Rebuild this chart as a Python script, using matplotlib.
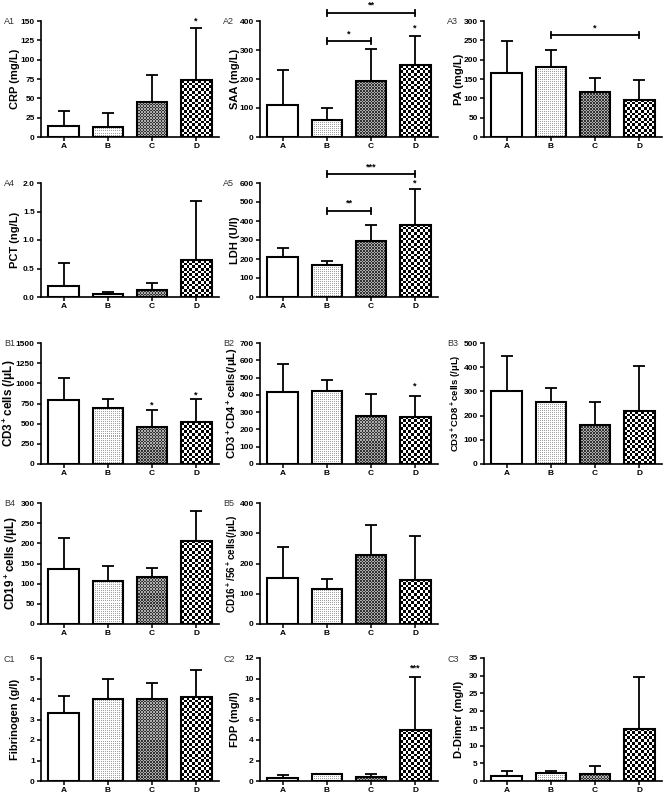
import numpy as np
import matplotlib
matplotlib.use('Agg')
import matplotlib.pyplot as plt

plt.rcParams['font.family'] = ['Liberation Sans', 'DejaVu Sans']
plt.rcParams['mathtext.fontset'] = 'custom'
plt.rcParams['mathtext.bf'] = 'Liberation Sans:bold'
plt.rcParams['mathtext.rm'] = 'Liberation Sans:bold'
plt.rcParams['mathtext.default'] = 'bf'

# groups
groups = ['A', 'B', 'C', 'D']

# values (mean, SD)
crp_mean = [14.5, 13, 45, 73.5]
crp_sd = [19.5, 18, 35, 67.5]
saa_mean = [111, 58, 194, 248]
saa_sd = [120, 41, 110, 101]
pa_mean = [166, 181, 116, 96]
pa_sd = [82, 43, 37, 51]
pct_mean = [0.19, 0.05, 0.13, 0.645]
pct_sd = [0.41, 0.04, 0.11, 1.035]
ldh_mean = [213, 167, 297, 380]
ldh_sd = [45, 20, 83, 186]
cd3_mean = [794, 698, 455, 515]
cd3_sd = [271, 112, 210, 285]
cd4_mean = [418, 420, 280, 272]
cd4_sd = [160, 68, 125, 121]
cd8_mean = [302, 255, 160, 218]
cd8_sd = [145, 57, 98, 189]
cd19_mean = [136, 107, 117, 206]
cd19_sd = [76, 37, 22, 74]
cd16_mean = [152, 116, 227, 147]
cd16_sd = [103, 34, 100, 143]
fib_mean = [3.33, 4.02, 3.98, 4.08]
fib_sd = [0.82, 0.98, 0.80, 1.35]
fdp_mean = [0.33, 0.65, 0.42, 5.0]
fdp_sd = [0.25, 0.07, 0.26, 5.1]
dd_mean = [1.5, 2.2, 2.0, 14.8]
dd_sd = [1.3, 0.7, 2.3, 14.7]

# significance marks: (group index, text, y)
crp_stars = [(3, '*', 150)]
saa_stars = [(3, '*', 375)]
ldh_stars = [(3, '*', 598)]
cd3_stars = [(2, '*', 730), (3, '*', 860)]
cd4_stars = [(3, '*', 450)]
fdp_stars = [(3, '***', 11.0)]
# brackets: (from group, to group, y, text)
saa_brackets = [(1, 2, 330, '*'), (1, 3, 428, '**')]
pa_brackets = [(1, 3, 263, '*')]
ldh_brackets = [(1, 2, 454, '**'), (1, 3, 646, '***')]

# label, row, col, y title, title size, means, sds, ymax, ystep, stars, brackets
panels = [
    ('A1', 0, 0, 'CRP (mg/L)', 8, crp_mean, crp_sd, 150, 25, crp_stars, []),
    ('A2', 0, 1, 'SAA (mg/L)', 8, saa_mean, saa_sd, 400, 100, saa_stars, saa_brackets),
    ('A3', 0, 2, 'PA (mg/L)', 8, pa_mean, pa_sd, 300, 50, [], pa_brackets),
    ('A4', 1, 0, 'PCT (ng/L)', 8, pct_mean, pct_sd, 2.0, 0.5, [], []),
    ('A5', 1, 1, 'LDH (U/l)', 8, ldh_mean, ldh_sd, 600, 100, ldh_stars, ldh_brackets),
    ('B1', 2, 0, 'CD3$^+$cells (/μL)', 8.4, cd3_mean, cd3_sd, 1500, 250, cd3_stars, []),
    ('B2', 2, 1, 'CD3$^+$CD4$^+$cells(/μL)', 8.1, cd4_mean, cd4_sd, 700, 100, cd4_stars, []),
    ('B3', 2, 2, 'CD3$^+$CD8$^+$cells (/μL)', 6.8, cd8_mean, cd8_sd, 500, 100, [], []),
    ('B4', 3, 0, 'CD19$^+$cells (/μL)', 8.4, cd19_mean, cd19_sd, 300, 50, [], []),
    ('B5', 3, 1, 'CD16$^+$/56$^+$cells(/μL)', 7.1, cd16_mean, cd16_sd, 400, 100, [], []),
    ('C1', 4, 0, 'Fibrinogen (g/l)', 8, fib_mean, fib_sd, 6, 1, [], []),
    ('C2', 4, 1, 'FDP (mg/l)', 8, fdp_mean, fdp_sd, 12, 2, fdp_stars, []),
    ('C3', 4, 2, 'D-Dimer (mg/l)', 8, dd_mean, dd_sd, 35, 5, [], []),
]

W, H = 671, 796
fig = plt.figure(figsize=(W / 100, H / 100), dpi=100)

col_left = [41, 260, 484]
ax_w = 178
rows = [(21, 137), (183, 297), (343, 464), (503, 624), (658, 781)]
bar_w = 0.7
xlo, xhi = -0.52, 3.52


def texture(kind, w_px, h_px):
    # fill pattern for a bar, built on the pixel grid
    if kind == 0:
        return np.ones((1, 1, 3))
    cell = {1: 1.0, 2: 1.5, 3: 2.7}[kind]
    nx = max(1, int(round(w_px / cell)))
    ny = max(1, int(round(h_px / cell)))
    i, j = np.indices((ny, nx))
    img = np.ones((ny, nx, 3))
    if kind == 1:
        dots = (i % 2 == 0) & (j % 2 == 0)
        img[dots] = 0.62
    elif kind == 2:
        chk = (i + j) % 2 == 0
        img[chk] = 0.2
        img[~chk] = 0.68
    else:
        chk = (i + j) % 2 == 0
        img[chk] = 0.0
        img[~chk] = 1.0
    return img


for label, r, c, ylab, ysize, means, sds, ymax, ystep, stars, brackets in panels:
    top, bot = rows[r]
    left = col_left[c]
    ax = fig.add_axes([left / W, 1 - bot / H, ax_w / W, (bot - top) / H])
    x = np.arange(len(groups))
    ax_h = bot - top
    for k in range(len(groups)):
        w_px = bar_w * ax_w / (xhi - xlo)
        h_px = means[k] * ax_h / ymax
        ax.imshow(texture(k, w_px, h_px), extent=[x[k] - bar_w / 2, x[k] + bar_w / 2, 0, means[k]],
                  aspect='auto', interpolation='nearest', zorder=2)
    ax.errorbar(x, means, yerr=[np.zeros(len(groups)), sds], fmt='none', ecolor='black',
                elinewidth=1.3, capsize=4.5, capthick=1.3, zorder=1)
    ax.bar(x, means, bar_w, facecolor='none', edgecolor='black', linewidth=1.5, zorder=3)

    for g, txt, y in stars:
        ax.text(x[g], y, txt, ha='center', va='center', fontsize=6.5, fontweight='bold', clip_on=False)
    for g1, g2, y, txt in brackets:
        d = ymax * 0.025
        ax.plot([x[g1], x[g2]], [y, y], color='black', lw=1.3, clip_on=False)
        ax.plot([x[g1], x[g1]], [y - d, y + d], color='black', lw=1.3, clip_on=False)
        ax.plot([x[g2], x[g2]], [y - d, y + d], color='black', lw=1.3, clip_on=False)
        ax.text((x[g1] + x[g2]) / 2, y + ymax * 0.065, txt, ha='center', va='center',
                fontsize=6.5, fontweight='bold', clip_on=False)

    ax.set_xlim(xlo, xhi)
    ax.set_ylim(0, ymax)
    yt = np.arange(0, ymax + ystep / 2, ystep)
    ax.set_yticks(yt)
    if ystep < 1:
        ticklabels = ['%.1f' % v for v in yt]
    else:
        ticklabels = ['%d' % v for v in yt]
    ax.set_yticklabels(ticklabels)
    ax.set_xticks(x)
    ax.set_xticklabels(groups)
    for s in ['top', 'right']:
        ax.spines[s].set_visible(False)
    for s in ['left', 'bottom']:
        ax.spines[s].set_linewidth(1.2)
    ax.tick_params(axis='both', direction='out', length=3, width=1.1, labelsize=6, pad=1.5)
    for t in ax.get_xticklabels() + ax.get_yticklabels():
        t.set_fontweight('bold')
    ax.set_ylabel(ylab, fontsize=ysize, fontweight='bold')
    off = 23.5 if max(len(s) for s in ticklabels) > 3 else 20.5
    ax.yaxis.set_label_coords(-off / ax_w, 0.5)
    fig.text((left - 37) / W, 1 - (top + 1) / H, label, fontsize=6.5, color='#333333',
             ha='left', va='center')

fig.savefig('out.png', dpi=100)
